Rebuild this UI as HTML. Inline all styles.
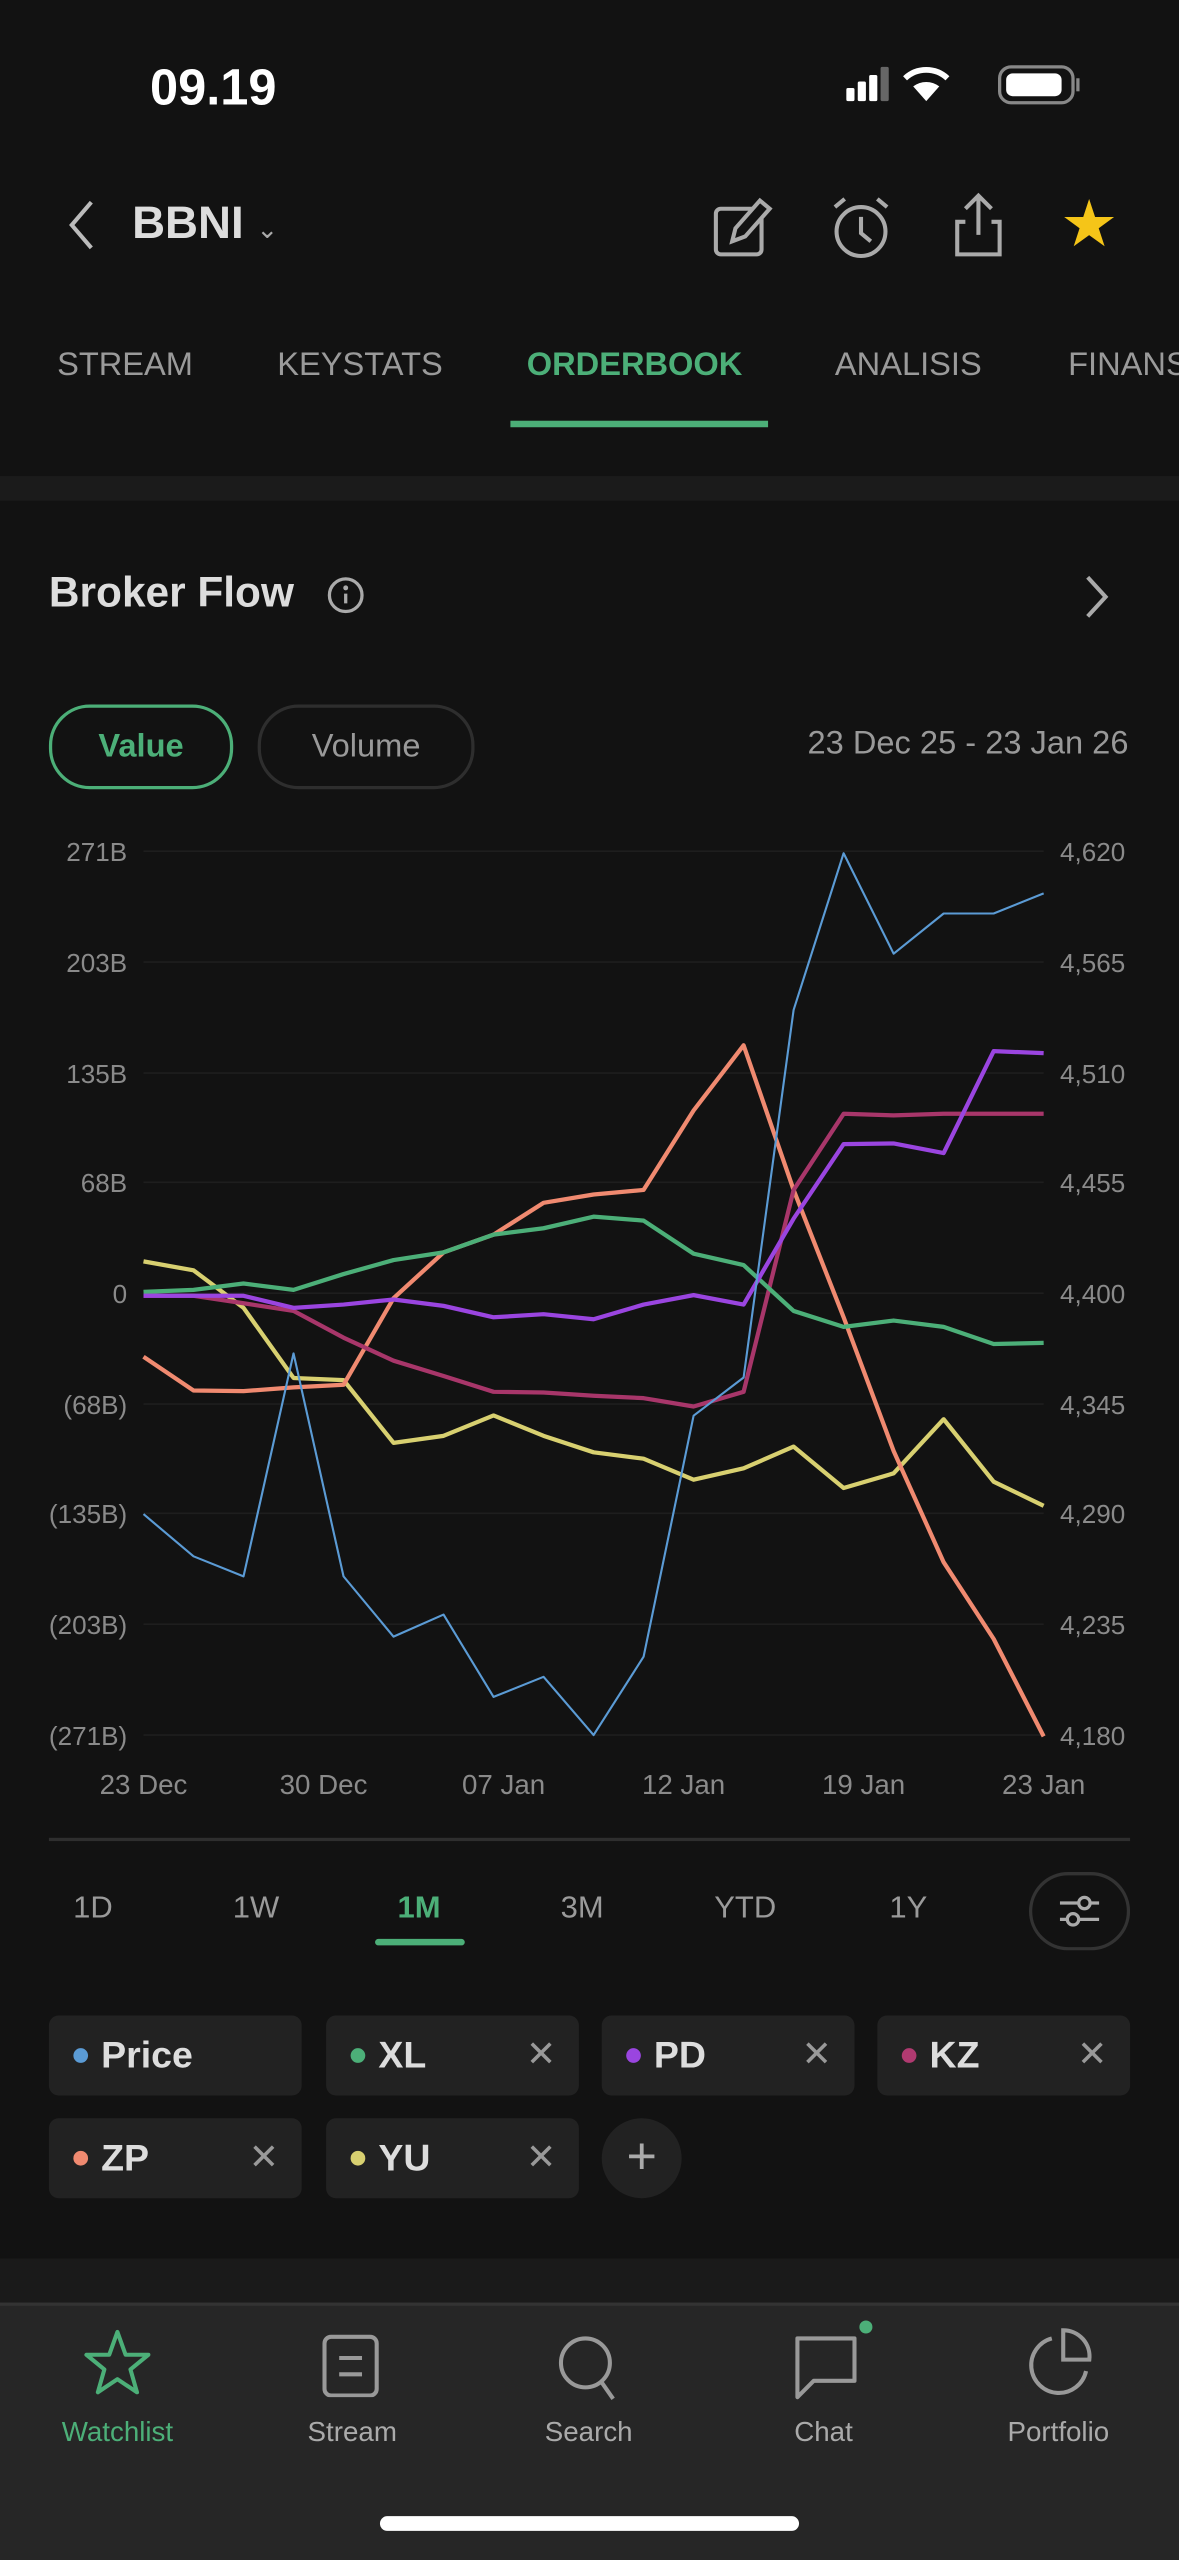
<!DOCTYPE html>
<html><head><meta charset="utf-8">
<style>
html,body{margin:0;padding:0;background:#121212;width:1179px;height:2556px;overflow:hidden}
#w{position:absolute;left:0;top:0;width:723px;height:1568px;transform:scale(1.63071);transform-origin:0 0;font-family:"Liberation Sans",sans-serif;color:#ccc}
.a{position:absolute}
.tab{position:absolute;top:213px;font-size:20px;color:#9a9a9a}
.tf{position:absolute;top:1160px;font-size:19px;color:#9a9a9a;transform:translateX(-50%)}
.chip{position:absolute;width:155px;height:49px;background:#222;border-radius:6px}
.chip .d{position:absolute;left:15px;top:20px;width:9px;height:9px;border-radius:50%}
.chip .t{position:absolute;left:32px;top:11px;font-size:23px;font-weight:bold;color:#ddd}
.chip .x{position:absolute;right:14px;top:11px;font-size:22px;color:#999}
.nav{position:absolute;top:1482px;font-size:17px;color:#aaa;transform:translateX(-50%)}
</style></head><body>
<div id="w">
<div class="a" style="left:92px;top:36px;font-size:31px;font-weight:bold;color:#fff">09.19</div>
<svg class="a" style="left:515px;top:38px" width="150" height="30">
<rect x="4" y="16" width="5" height="8" rx="1" fill="#fff"/><rect x="11" y="12" width="5" height="12" rx="1" fill="#fff"/><rect x="18" y="8" width="5" height="16" rx="1" fill="#fff"/><rect x="25" y="3" width="5" height="21" rx="1" fill="#666"/>
<path d="M53 24 L45 15 A13 13 0 0 1 61 15 Z M53 24" fill="#fff"/><path d="M40 10 A19 19 0 0 1 66 10" stroke="#fff" stroke-width="3.5" fill="none"/>
<rect x="98" y="3" width="45" height="22" rx="7" fill="none" stroke="#888" stroke-width="2"/><rect x="102" y="7" width="34" height="14" rx="4" fill="#fff"/><rect x="145" y="10" width="2" height="8" fill="#888"/>
</svg>
<svg class="a" style="left:36px;top:120px" width="30" height="36"><path d="M20 4 L8 18 L20 32" stroke="#bbb" stroke-width="2.5" fill="none"/></svg>
<div class="a" style="left:81px;top:121px;font-size:28px;font-weight:bold;color:#ddd">BBNI <span style="font-size:16px;font-weight:normal;color:#aaa">&#8964;</span></div>
<svg class="a" style="left:435px;top:118px" width="40" height="42"><rect x="4" y="10" width="28" height="28" rx="3" fill="none" stroke="#aaa" stroke-width="2.5"/><path d="M14 30 L16 22 L31 5 L37 10 L22 27 Z" fill="#121212" stroke="#aaa" stroke-width="2.5"/></svg>
<svg class="a" style="left:506px;top:118px" width="44" height="44"><circle cx="22" cy="24" r="15" fill="none" stroke="#aaa" stroke-width="2.5"/><path d="M22 15 V25 L28 30" stroke="#aaa" stroke-width="2.5" fill="none"/><path d="M6 9 L12 4 M38 9 L32 4" stroke="#aaa" stroke-width="2.5"/></svg>
<svg class="a" style="left:582px;top:116px" width="36" height="44"><path d="M18 4 V28 M10 12 L18 4 L26 12 M10 20 H5 V40 H31 V20 H26" stroke="#aaa" stroke-width="2.5" fill="none"/></svg>
<div class="a" style="left:650px;top:115px;font-size:40px;color:#f5c518">★</div>
<div class="tab" style="left:35px">STREAM</div>
<div class="tab" style="left:170px">KEYSTATS</div>
<div class="tab" style="left:323px;color:#4caf78;font-weight:bold">ORDERBOOK</div>
<div class="tab" style="left:512px">ANALISIS</div>
<div class="tab" style="left:655px">FINANSIAL</div>
<div class="a" style="left:313px;top:258px;width:158px;height:4px;background:#4caf78"></div>
<div class="a" style="left:0;top:292px;width:723px;height:15px;background:#1b1b1b"></div>
<div class="a" style="left:30px;top:348px;font-size:26px;font-weight:bold;color:#ddd">Broker Flow</div>
<svg class="a" style="left:200px;top:353px" width="24" height="24"><circle cx="12" cy="12" r="10" fill="none" stroke="#aaa" stroke-width="2"/><circle cx="12" cy="7.5" r="1.5" fill="#aaa"/><path d="M12 11 V17" stroke="#aaa" stroke-width="2"/></svg>
<svg class="a" style="left:660px;top:350px" width="24" height="32"><path d="M7 4 L18 16 L7 28" stroke="#aaa" stroke-width="2.5" fill="none"/></svg>
<div class="a" style="left:30px;top:432px;width:109px;height:48px;border:2px solid #4caf78;border-radius:25px;color:#4caf78;font-size:20px;font-weight:bold;text-align:center;line-height:48px">Value</div>
<div class="a" style="left:158px;top:432px;width:129px;height:48px;border:2px solid #2e2e2e;border-radius:25px;color:#999;font-size:20px;text-align:center;line-height:48px">Volume</div>
<div class="a" style="right:31px;top:445px;font-size:20px;color:#999">23 Dec 25 - 23 Jan 26</div>

<svg class="a" id="chart" style="left:0;top:500px" width="723" height="620" viewBox="0 500 723 620"></svg>

<div class="a" style="left:30px;top:1127px;width:663px;height:2px;background:#2e2e2e"></div>
<div class="tf" style="left:57px">1D</div>
<div class="tf" style="left:157px">1W</div>
<div class="tf" style="left:257px;color:#4caf78;font-weight:bold">1M</div>
<div class="a" style="left:230px;top:1189px;width:55px;height:4px;border-radius:2px;background:#4caf78"></div>
<div class="tf" style="left:357px">3M</div>
<div class="tf" style="left:457px">YTD</div>
<div class="tf" style="left:557px">1Y</div>
<svg class="a" style="left:631px;top:1148px" width="62" height="48"><rect x="1" y="1" width="60" height="46" rx="23" fill="none" stroke="#333" stroke-width="2"/><path d="M19 19 H43 M19 29 H43" stroke="#aaa" stroke-width="2"/><circle cx="34" cy="19" r="3.5" fill="#121212" stroke="#aaa" stroke-width="2"/><circle cx="27" cy="29" r="3.5" fill="#121212" stroke="#aaa" stroke-width="2"/></svg>

<div class="chip" style="left:30px;top:1236px"><div class="d" style="background:#5b9bd5"></div><div class="t">Price</div></div>
<div class="chip" style="left:200px;top:1236px"><div class="d" style="background:#4caf78"></div><div class="t">XL</div><div class="x">✕</div></div>
<div class="chip" style="left:369px;top:1236px"><div class="d" style="background:#9a45e0"></div><div class="t">PD</div><div class="x">✕</div></div>
<div class="chip" style="left:538px;top:1236px"><div class="d" style="background:#b03a70"></div><div class="t">KZ</div><div class="x">✕</div></div>
<div class="chip" style="left:30px;top:1299px"><div class="d" style="background:#f08a70"></div><div class="t">ZP</div><div class="x">✕</div></div>
<div class="chip" style="left:200px;top:1299px"><div class="d" style="background:#d8d070"></div><div class="t">YU</div><div class="x">✕</div></div>
<div class="a" style="left:369px;top:1299px;width:49px;height:49px;border-radius:50%;background:#222;color:#aaa;font-size:32px;text-align:center;line-height:46px">+</div>

<div class="a" style="left:0;top:1385px;width:723px;height:27px;background:#1a1a1a"></div>
<div class="a" style="left:0;top:1412px;width:723px;height:156px;background:#262626;border-top:2px solid #333"></div>
<svg class="a" style="left:50px;top:1427px" width="44" height="44"><path d="M22 3 L27 17 L41 17 L30 26 L34 40 L22 32 L10 40 L14 26 L3 17 L17 17 Z" fill="none" stroke="#4caf78" stroke-width="2.5" stroke-linejoin="round"/></svg>
<svg class="a" style="left:196px;top:1430px" width="40" height="40"><rect x="3" y="3" width="32" height="36" rx="4" fill="none" stroke="#999" stroke-width="2.5"/><path d="M12 16 H26 M12 26 H26" stroke="#999" stroke-width="2.5"/></svg>
<svg class="a" style="left:340px;top:1430px" width="42" height="44"><circle cx="19" cy="19" r="15" fill="none" stroke="#999" stroke-width="2.5"/><path d="M29 31 L36 41" stroke="#999" stroke-width="2.5"/></svg>
<svg class="a" style="left:485px;top:1422px" width="56" height="50"><path d="M4 12 H39 V38 H14 L4 48 Z" fill="none" stroke="#999" stroke-width="2.5" stroke-linejoin="round"/><circle cx="46" cy="5" r="4" fill="#4caf78"/></svg>
<svg class="a" style="left:627px;top:1426px" width="46" height="48"><path d="M18 8 A17 17 0 1 0 39 28" fill="none" stroke="#999" stroke-width="2.5"/><path d="M25 3 A16 16 0 0 1 41 21 H25 Z" fill="none" stroke="#999" stroke-width="2.5"/></svg>
<div class="nav" style="left:72px;color:#4caf78">Watchlist</div>
<div class="nav" style="left:216px">Stream</div>
<div class="nav" style="left:361px">Search</div>
<div class="nav" style="left:505px">Chat</div>
<div class="nav" style="left:649px">Portfolio</div>
<div class="a" style="left:233px;top:1543px;width:257px;height:9px;border-radius:5px;background:#fff"></div>
</div>
<script>
const valueTicks=[271,203,135,68,0,-68,-135,-203,-271];
const valueTickLabels=["271B","203B","135B","68B","0","(68B)","(135B)","(203B)","(271B)"];
const priceTickLabels=["4,620","4,565","4,510","4,455","4,400","4,345","4,290","4,235","4,180"];
const dateLabels=["23 Dec","30 Dec","07 Jan","12 Jan","19 Jan","23 Jan"];
const price=[4290,4269,4259,4370,4259,4229,4240,4199,4209,4180,4219,4339,4358,4541,4619,4569,4589,4589,4599];
const xl=[0.8,2,5.9,2,11.7,20.3,25,35.9,39.8,46.9,44.5,24.2,17.2,-10.9,-20.7,-16.8,-20.7,-31.2,-30.5];
const pd=[-1.6,-1.6,-1.6,-9,-7,-3.9,-7.8,-14.8,-12.9,-16,-7,-1.2,-7,45.7,91.4,91.8,85.9,148.4,147.2];
const kz=[-1.6,-1.6,-6.2,-10.9,-27.3,-41.4,-50.8,-60.5,-60.9,-62.9,-64.4,-69.5,-60.5,63.3,110,109,110,110,110];
const zp=[-39,-59.7,-60.1,-57.8,-56.2,-3.1,25,35.9,55.4,60.5,63.3,112,152,63.3,-14.8,-96.8,-165,-212,-271.8];
const yu=[19.5,14,-9,-52,-53.3,-91.8,-87.5,-75,-87.5,-97.6,-101.5,-114.4,-107.4,-94.1,-119.5,-110.5,-77.3,-115.6,-130.4];

const svg=document.getElementById('chart');
const NS='http://www.w3.org/2000/svg';
const X0=88,X1=640,YT=522,YB=1064;
function xs(i){return X0+(X1-X0)*i/(price.length-1);}
function yv(v){return 793-v*(YB-YT)/542;}
function yp(p){return YB-(p-4180)*(YB-YT)/440;}
function mk(t,a){const e=document.createElementNS(NS,t);for(const k in a)e.setAttribute(k,a[k]);svg.appendChild(e);return e;}
valueTicks.forEach((v,i)=>{
  const y=yv(v);
  const g=mk('line',{x1:X0,x2:X1,y1:y,y2:y,stroke:'#1e1e1e','stroke-width':1});
  
  
  const l=mk('text',{x:78,y:y+6,'text-anchor':'end','font-size':16,fill:'#8a8a8a','font-family':'Liberation Sans, sans-serif'});
  l.textContent=valueTickLabels[i];
  
  
  const r=mk('text',{x:650,y:y+6,'font-size':16,fill:'#8a8a8a','font-family':'Liberation Sans, sans-serif'});
  r.textContent=priceTickLabels[i];
  
  
});
dateLabels.forEach((d,i)=>{
  const t=mk('text',{x:X0+(X1-X0)*i/(dateLabels.length-1),y:1100,'text-anchor':'middle','font-size':17,fill:'#8a8a8a','font-family':'Liberation Sans, sans-serif'});
  t.textContent=d;
  
  
});
function line(arr,fy,color,w,name){
  const p=mk('polyline',{points:arr.map((v,i)=>xs(i)+','+fy(v)).join(' '),fill:'none',stroke:color,'stroke-width':w,'stroke-linejoin':'round'});
  
  
}
line(yu,yv,'#d8d070',2.6,'series-yu');
line(zp,yv,'#f08a70',2.6,'series-zp');
line(kz,yv,'#a8366a',2.6,'series-kz');
line(xl,yv,'#4caf78',2.6,'series-xl');
line(pd,yv,'#9a45e0',2.6,'series-pd');
line(price,yp,'#5b9bd5',1.3,'series-price');
</script>
</body></html>
